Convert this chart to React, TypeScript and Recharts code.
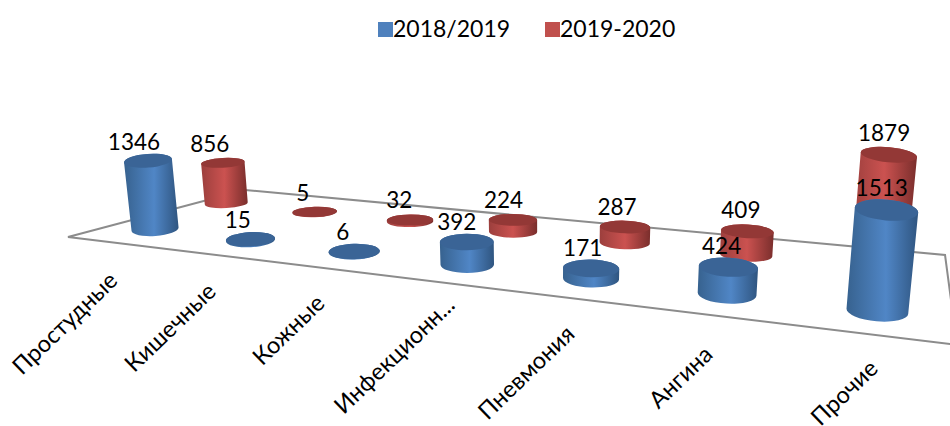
import React from "react";
import { BarChart, Bar, XAxis, YAxis, Legend, Customized } from "recharts";

const categories = ["Простудные", "Кишечные", "Кожные", "Инфекционн...", "Пневмония", "Ангина", "Прочие"];
const series1819 = [1346, 15, 6, 392, 171, 424, 1513];
const series1920 = [856, 5, 32, 224, 287, 409, 1879];
const NAME_A = "2018/2019";
const NAME_B = "2019-2020";
const data = categories.map((name, i) => ({ name, a: series1819[i], b: series1920[i] }));

// Perspective of the chart floor: unit square -> picture plane
const H = { a: 615, b: 242, c: 68, d: 9.2, e: 3.4, f: 237, g: -0.2863, h: 0.2651 };
const FLOOR: [number, number][] = [[0, 0], [0, 1], [1, 1], [1, 0]];
const project = (u: number, v: number) => {
  const den = H.g * u + H.h * v + 1;
  return { x: (H.a * u + H.b * v + H.c) / den, y: (H.d * u + H.e * v + H.f) / den, den };
};
const DEPTH = {
  a: { v: 0.22, u0: 0.065, step: 0.1445, labelGap: 4, scale: 0.00108, size: 49 },
  b: { v: 0.72, u0: 0.04, step: 0.148, labelGap: 6, scale: 0.0011, size: 50.7 },
};
const VP = { x: 544, y: 4000 };
const FONT = "Lato, 'Open Sans', sans-serif";
const DOMAIN_MAX = 2000;
const tickNudge: [number, number][] = [[-36, 53], [-33, 53], [-28, 53], [-11, 42], [-15, 57], [-13, 62], [2, 59]];

const Cylinder = (props: any, key: "a" | "b") => {
  const { index, height, background } = props;
  const cfg = DEPTH[key];
  const u = cfg.u0 + cfg.step * index;
  const base = project(u, cfg.v);
  const w = cfg.size / base.den;
  const rb = w / 2;
  const valueFromScale = (height / background.height) * DOMAIN_MAX;
  const h = valueFromScale * cfg.scale * w;
  const t = h / (VP.y - base.y);
  const tx = base.x + (base.x - VP.x) * t;
  const ty = base.y + (base.y - VP.y) * t;
  const rt = rb * (1 + t);
  const ratio = 0.309 + 0.05 * u - 0.122 * cfg.v;
  const ryb = rb * ratio;
  const ryt = rt * ratio;
  const deg = (base.x - 480) * 0.0127;
  const rad = (deg * Math.PI) / 180;
  const c = Math.cos(rad);
  const s = Math.sin(rad);
  const d = [
    `M${tx - rt * c},${ty - rt * s}`,
    `L${base.x - rb * c},${base.y - rb * s}`,
    `A${rb},${ryb} ${deg} 0 0 ${base.x + rb * c},${base.y + rb * s}`,
    `L${tx + rt * c},${ty + rt * s}`,
    `A${rt},${ryt} ${deg} 0 0 ${tx - rt * c},${ty - rt * s}`,
    "Z",
  ].join(" ");
  return (
    <g>
      <path d={d} fill={`url(#grad-${key})`} />
      <ellipse
        cx={tx}
        cy={ty}
        rx={rt}
        ry={ryt}
        transform={`rotate(${deg} ${tx} ${ty})`}
        fill={key === "a" ? "#3a6496" : "#933836"}
      />
      <text
        x={tx - 14 + (tx - 150) * 0.0125}
        y={ty - ryt - cfg.labelGap}
        textAnchor="middle"
        fontFamily={FONT}
        fontSize={22.5}
        fill="#000"
      >
        {key === "a" ? series1819[index] : series1920[index]}
      </text>
    </g>
  );
};

const Floor = () => {
  const pts = FLOOR.map(([u, v]) => {
    const p = project(u, v);
    return `${p.x},${p.y}`;
  }).join(" ");
  return <polygon points={pts} fill="none" stroke="#8c8c8c" strokeWidth={2} />;
};

const Tick = (props: any) => {
  const i = props.index;
  const p = project(DEPTH.a.u0 + DEPTH.a.step * i, DEPTH.a.v);
  const x = p.x + tickNudge[i][0];
  const y = p.y + tickNudge[i][1];
  return (
    <text
      x={x}
      y={y}
      textAnchor="end"
      transform={`rotate(-44 ${x} ${y})`}
      fontFamily={FONT}
      fontSize={23.5}
      fill="#000"
    >
      {categories[i]}
    </text>
  );
};

const LegendBox = () => (
  <div style={{ position: "relative", width: 950, height: 50, fontFamily: FONT, fontSize: 23, color: "#000" }}>
    {[
      { n: NAME_A, c: "#4f81bd", x: 378 },
      { n: NAME_B, c: "#c0504d", x: 545 },
    ].map((it) => (
      <div key={it.n} style={{ position: "absolute", left: it.x, top: 13, display: "flex", alignItems: "center" }}>
        <span style={{ width: 15, height: 15, background: it.c, display: "inline-block", marginTop: 3 }} />
        <span style={{ lineHeight: "30px" }}>{it.n}</span>
      </div>
    ))}
  </div>
);

export default function App() {
  return (
    <div style={{ position: "absolute", left: 0, top: 0, width: 950, height: 426, overflow: "hidden", background: "#fff" }}>
      <BarChart width={950} height={426} data={data} margin={{ top: 0, right: 0, bottom: 0, left: 0 }}>
        <defs>
          <linearGradient id="grad-a" x1="0" x2="1" y1="0" y2="0">
            <stop offset="0" stopColor="#37628f" />
            <stop offset="0.55" stopColor="#5086c6" />
            <stop offset="1" stopColor="#2f5580" />
          </linearGradient>
          <linearGradient id="grad-b" x1="0" x2="1" y1="0" y2="0">
            <stop offset="0" stopColor="#9c3f3d" />
            <stop offset="0.5" stopColor="#cb5250" />
            <stop offset="1" stopColor="#7a2e2c" />
          </linearGradient>
        </defs>
        <Customized component={Floor} />
        <XAxis dataKey="name" interval={0} axisLine={false} tickLine={false} tick={Tick} height={30} />
        <YAxis hide domain={[0, DOMAIN_MAX]} />
        <Legend content={LegendBox} verticalAlign="top" wrapperStyle={{ position: "absolute", left: 0, top: 0, width: 950 }} />
        <Bar dataKey="b" name={NAME_B} isAnimationActive={false} shape={(p: any) => Cylinder(p, "b")} />
        <Bar dataKey="a" name={NAME_A} isAnimationActive={false} shape={(p: any) => Cylinder(p, "a")} />
      </BarChart>
    </div>
  );
}
